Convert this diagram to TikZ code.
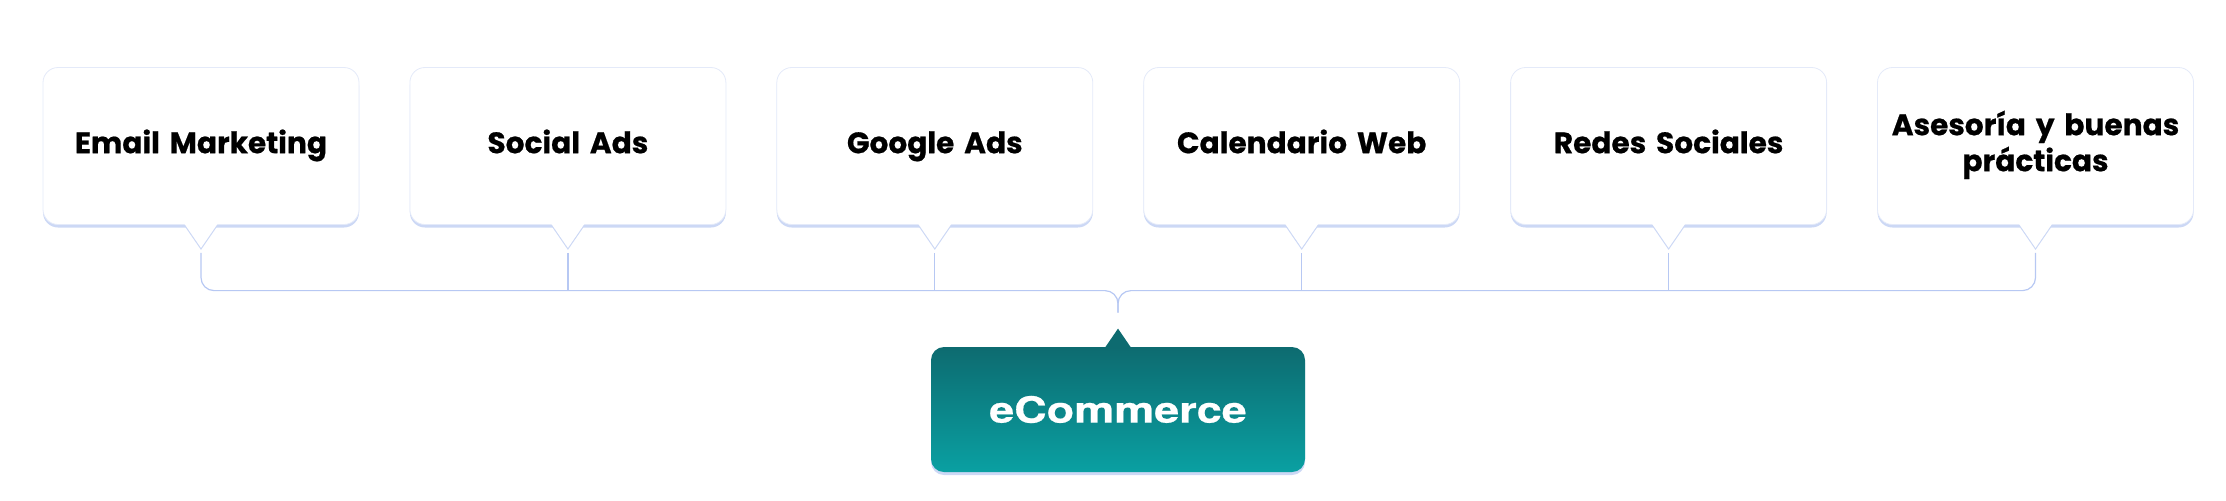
\documentclass[tikz,border=0pt]{standalone}
\usepackage{fontspec}
\setmainfont{Poppins}[BoldFeatures={FakeBold=0.6}]
\newfontfamily\widefont[FakeStretch=1.25, BoldFeatures={FakeBold=0.6}]{TeX Gyre Heros}
\usetikzlibrary{positioning,shadows}

\definecolor{linkblue}{HTML}{B7C8F3}
\definecolor{edgeblue}{HTML}{E4EAF9}
\definecolor{glowblue}{HTML}{CCD8F5}
\definecolor{tealtop}{HTML}{0D6B70}
\definecolor{tealbot}{HTML}{0AA0A2}

\tikzstyle{topic}=[rectangle, rounded corners=7.5pt, fill=white, draw=edgeblue, line width=0.4pt,
  minimum width=158pt, minimum height=78.5pt, text width=156pt, align=center, inner sep=0pt,
  font=\fontsize{14.8}{18}\selectfont\bfseries,
  execute at begin node=\strut, execute at end node=\strut,
  drop shadow={shadow xshift=0pt, shadow yshift=-1.5pt, fill=glowblue, opacity=1}]
\tikzstyle{tip}=[fill=white, drop shadow={shadow xshift=0pt, shadow yshift=-1pt, fill=glowblue, opacity=1}]
\tikzstyle{bus}=[draw=linkblue, line width=0.6pt, rounded corners=6.5pt]
\tikzstyle{main}=[rectangle, rounded corners=6.5pt, top color=tealtop, bottom color=tealbot,
  minimum width=187pt, minimum height=62.5pt, inner sep=0pt, text=white,
  font=\widefont\fontsize{18}{20}\selectfont\bfseries,
  drop shadow={shadow xshift=0pt, shadow yshift=-1.5pt, fill=glowblue, opacity=1}]

\begin{document}
\begin{tikzpicture}[x=0.5pt, y=-0.5pt]
  \useasboundingbox (0,0) rectangle (2226,500);
  % services
  \node[topic] at (201,146) (b1) {Email Marketing};
  \node[topic] at (567.9,146) (b2) {Social Ads};
  \node[topic] at (934.8,146) (b3) {Google Ads};
  \node[topic] at (1301.7,146) (b4) {Calendario Web};
  \node[topic] at (1668.6,146) (b5) {Redes Sociales};
  \node[topic] at (2035.5,146) (b6) {Asesoría y buenas\\prácticas};
  \path[tip] ([shift={(-16.5,-1)}]b1.south) -- ([shift={(0,23)}]b1.south) -- ([shift={(16.5,-1)}]b1.south) -- cycle;
  \path[tip] ([shift={(-16.5,-1)}]b2.south) -- ([shift={(0,23)}]b2.south) -- ([shift={(16.5,-1)}]b2.south) -- cycle;
  \path[tip] ([shift={(-16.5,-1)}]b3.south) -- ([shift={(0,23)}]b3.south) -- ([shift={(16.5,-1)}]b3.south) -- cycle;
  \path[tip] ([shift={(-16.5,-1)}]b4.south) -- ([shift={(0,23)}]b4.south) -- ([shift={(16.5,-1)}]b4.south) -- cycle;
  \path[tip] ([shift={(-16.5,-1)}]b5.south) -- ([shift={(0,23)}]b5.south) -- ([shift={(16.5,-1)}]b5.south) -- cycle;
  \path[tip] ([shift={(-16.5,-1)}]b6.south) -- ([shift={(0,23)}]b6.south) -- ([shift={(16.5,-1)}]b6.south) -- cycle;
  % main
  \node[main] at (1118,409.5) (ecom) {eCommerce};
  \path[fill=tealtop] ([shift={(-13,1)}]ecom.north) -- ([shift={(0,-18)}]ecom.north) -- ([shift={(13,1)}]ecom.north) -- cycle;
  % links
  \coordinate[below=14pt of b1.south] (s1);
  \coordinate[below=14pt of b2.south] (s2);
  \coordinate[below=14pt of b3.south] (s3);
  \coordinate[below=14pt of b4.south] (s4);
  \coordinate[below=14pt of b5.south] (s5);
  \coordinate[below=14pt of b6.south] (s6);
  \coordinate[above=28pt of ecom.north] (hub);
  \coordinate[above=17pt of ecom.north] (hubend);
  \draw[bus] (s1) |- (hub) -- (hubend);
  \draw[bus] (s6) |- (hub) -- (hubend);
  \draw[bus] (s2) -- (s2 |- hub);
  \draw[bus] (s3) -- (s3 |- hub);
  \draw[bus] (s4) -- (s4 |- hub);
  \draw[bus] (s5) -- (s5 |- hub);
\end{tikzpicture}
\end{document}
